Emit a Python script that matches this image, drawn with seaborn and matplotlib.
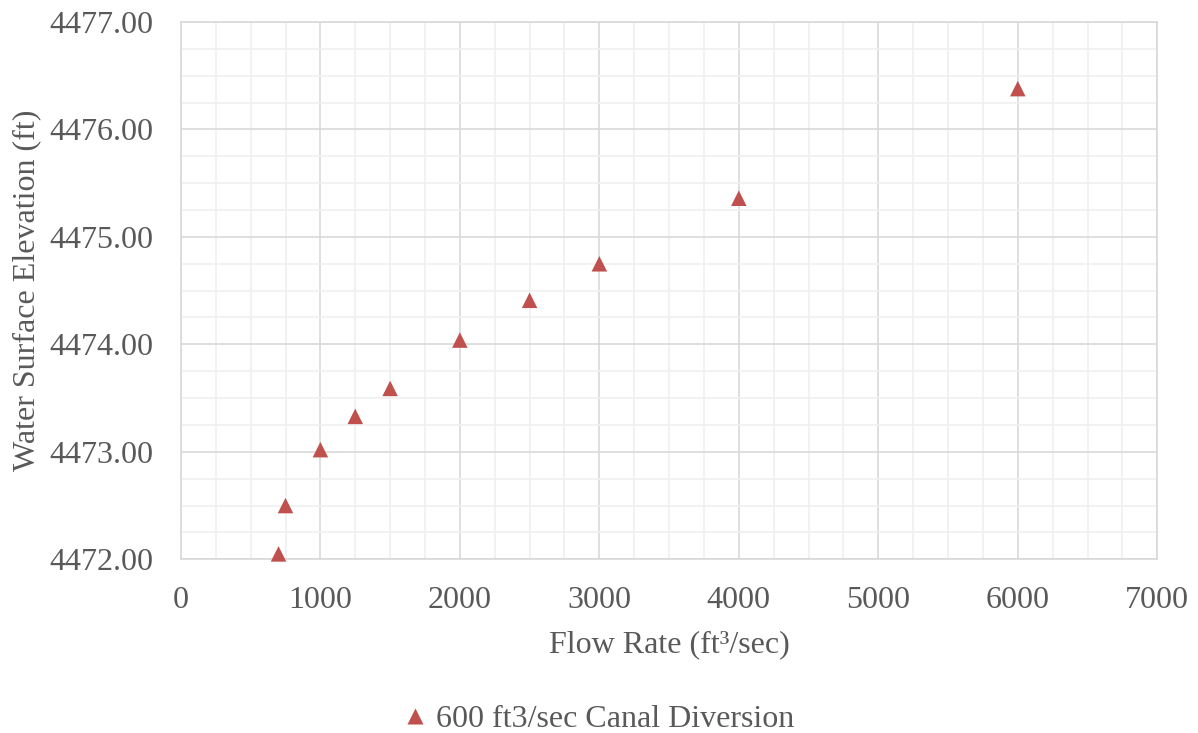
import matplotlib
matplotlib.use('Agg')
import matplotlib.pyplot as plt
from matplotlib.ticker import MultipleLocator, FormatStrFormatter
import seaborn as sns
import pandas as pd

# data
flow_rate = [700, 750, 1000, 1250, 1500, 2000, 2500, 3000, 4000, 6000]
elevation = [4472.05, 4472.50, 4473.02, 4473.33, 4473.59, 4474.04, 4474.41, 4474.75, 4475.36, 4476.38]
series_name = "600 ft3/sec Canal Diversion"

df = pd.DataFrame({"flow": flow_rate, "wse": elevation, "series": series_name})

sns.set_style("white")
plt.rcParams['font.family'] = ['Liberation Serif', 'DejaVu Serif']
text_color = "#595959"

fig, ax = plt.subplots(figsize=(11.98, 7.33), dpi=100)
fig.subplots_adjust(left=0.151, right=0.966, top=0.970, bottom=0.237)

sns.scatterplot(data=df, x="flow", y="wse", hue="series", palette=["#C0504D"],
                marker="^", s=125, edgecolor="none", ax=ax, zorder=3, clip_on=False)

ax.set_xlim(0, 7000)
ax.set_ylim(4472, 4477)
ax.xaxis.set_major_locator(MultipleLocator(1000))
ax.xaxis.set_minor_locator(MultipleLocator(250))
ax.yaxis.set_major_locator(MultipleLocator(1))
ax.yaxis.set_minor_locator(MultipleLocator(0.25))
ax.yaxis.set_major_formatter(FormatStrFormatter('%.2f'))

ax.grid(which="major", color="#D9D9D9", linewidth=1.2)
ax.grid(which="minor", color="#F0F0F0", linewidth=1.2)
ax.set_axisbelow(True)
for side in ["top", "right", "left", "bottom"]:
    ax.spines[side].set_color("#D9D9D9")
    ax.spines[side].set_linewidth(1.2)

ax.tick_params(axis="both", which="both", length=0, labelsize=23, colors=text_color)
ax.tick_params(axis="y", pad=20)
ax.tick_params(axis="x", pad=19)
ax.set_xlabel("Flow Rate (ft³/sec)", fontsize=23, color=text_color, labelpad=11)
ax.set_ylabel("Water Surface Elevation (ft)", fontsize=23, color=text_color, labelpad=6)

# legend below the plot, centred on the figure
handles, labels = ax.get_legend_handles_labels()
ax.get_legend().remove()
fig.legend(handles, labels, loc="center", bbox_to_anchor=(0.5, 0.018), frameon=False,
           fontsize=23, labelcolor=text_color, handlelength=0.7, handletextpad=0.3,
           markerscale=1.0)

plt.savefig("out.png", dpi=100)
plt.close()
